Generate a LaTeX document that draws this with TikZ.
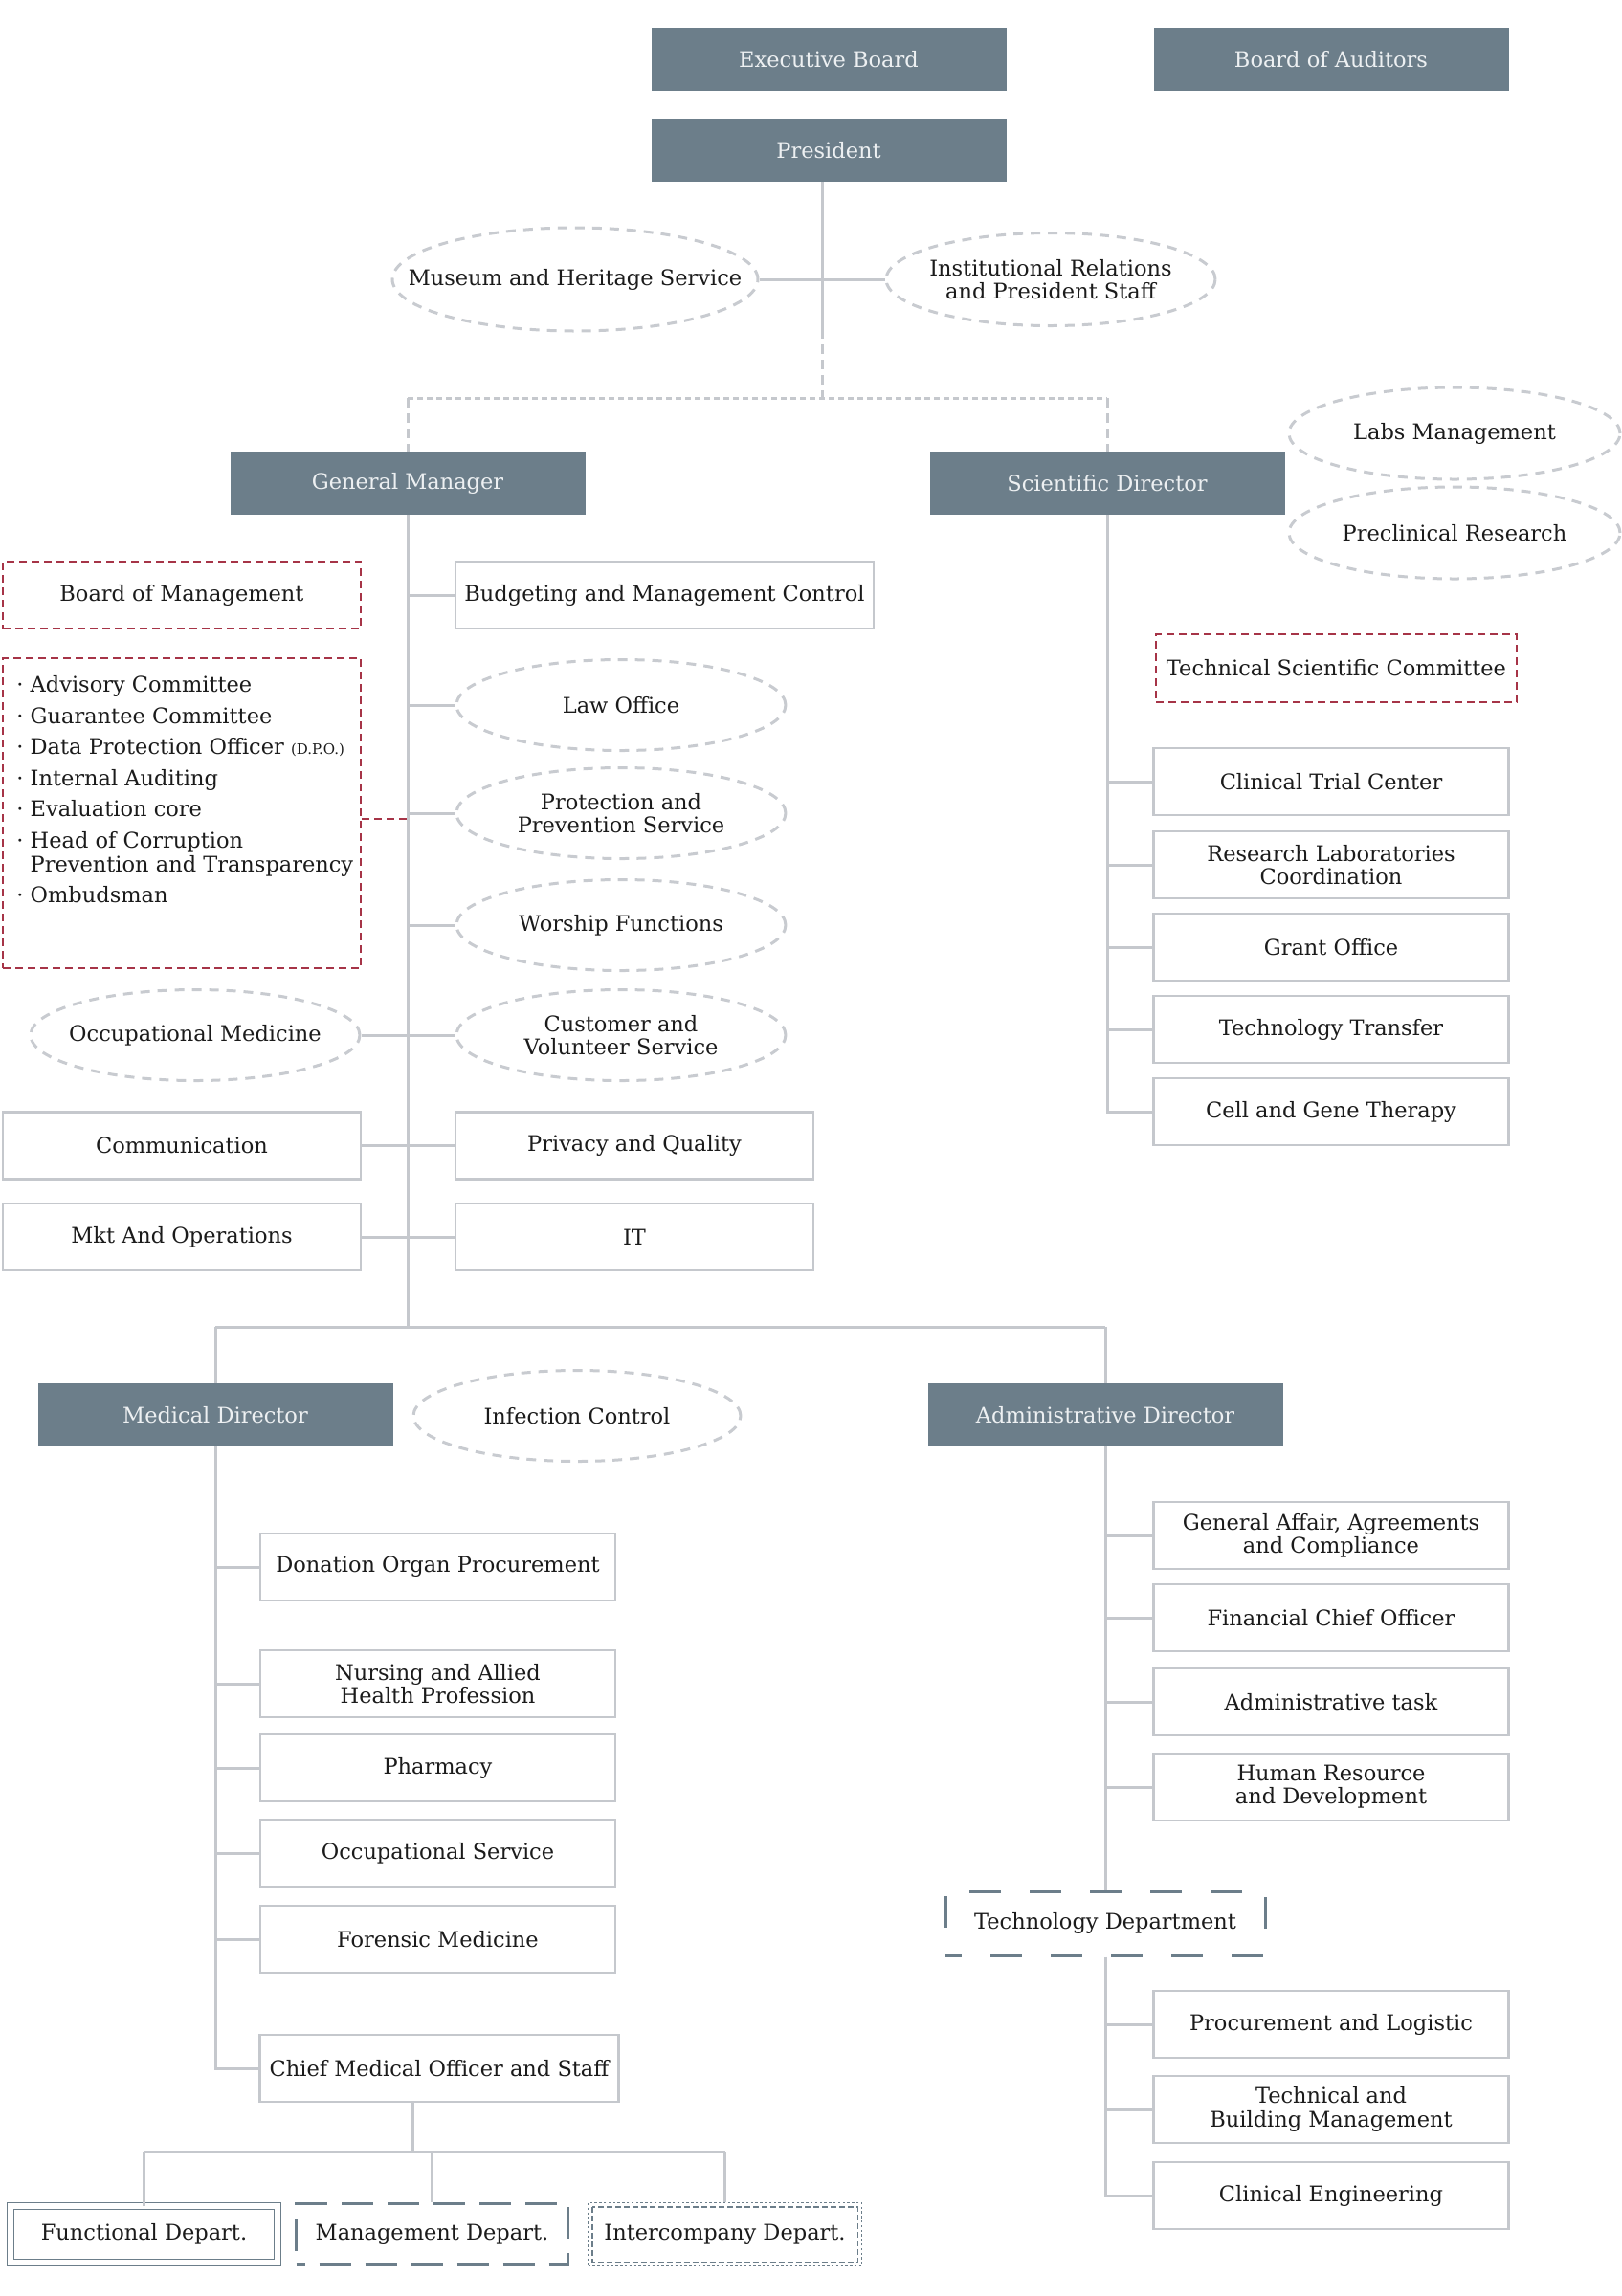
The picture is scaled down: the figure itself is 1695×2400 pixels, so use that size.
\documentclass[tikz,border=0pt]{standalone}
\usepackage{fontspec}
\setmainfont{DejaVu Serif}
\usetikzlibrary{shapes.geometric,calc}
\definecolor{slate}{HTML}{6C7E8A}
\definecolor{lgray}{HTML}{C5C8CD}
\definecolor{egray}{HTML}{C8CBD0}
\definecolor{wine}{HTML}{A63447}
\definecolor{ink}{HTML}{1B1B1B}
\definecolor{paleT}{HTML}{EDF0F2}
\begin{document}
\begin{tikzpicture}[x=0.5pt,y=-0.5pt,
  every node/.style={font=\fontsize{11.25}{12.1}\selectfont, text=ink, inner sep=0pt, align=center},
  dark/.style={rectangle, fill=slate, text=paleT, minimum width=185.5pt, minimum height=33pt},
  gbox/.style={rectangle, draw=lgray, line width=1.4pt, fill=white, minimum width=185.5pt, minimum height=35pt},
  oval/.style={ellipse, draw=egray, line width=1.5pt, dash pattern=on 5pt off 4pt, minimum width=172pt, minimum height=47.5pt, label={center:#1}},
  rbox/.style={rectangle, draw=wine, line width=1.4pt, dash pattern=on 4pt off 2.5pt},
  link/.style={draw=lgray, line width=1.5pt},
  rlink/.style={draw=wine, line width=1.4pt, dash pattern=on 4pt off 2.5pt},
]
\useasboundingbox (0,0) rectangle (1695,2400);

% ---------- top ----------
\node[dark] (eb) at (866,62) {Executive Board};
\node[dark] (ba) at (1391,62) {Board of Auditors};
\node[dark] (pres) at (866,157) {President};
\node[oval={Museum and Heritage Service}, minimum width=191pt, minimum height=54pt] (mus) at (601,292) {};
\node[oval={Institutional Relations\\and President Staff}, minimum width=172pt, minimum height=48.5pt] (inst) at (1098,292) {};
\node[dark] (gm) at (426,505) {General Manager};
\node[dark] (sd) at (1157,505) {Scientific Director};
\node[oval={Labs Management}, minimum width=173pt, minimum height=48pt] (labs) at (1520,453) {};
\node[oval={Preclinical Research}, minimum width=173pt, minimum height=48pt] (precl) at (1520,557) {};

% ---------- scientific ----------
\node[rbox, minimum width=188.5pt, minimum height=35.5pt] (tsc) at (1396.5,698.5) {Technical Scientific Committee};
\node[gbox] (ctc) at (1391,817) {Clinical Trial Center};
\node[gbox] (rlc) at (1391,904) {Research Laboratories\\Coordination};
\node[gbox] (grant) at (1391,990) {Grant Office};
\node[gbox] (tt) at (1391,1076) {Technology Transfer};
\node[gbox] (cgt) at (1391,1162) {Cell and Gene Therapy};

% ---------- general manager ----------
\node[rbox, minimum width=187pt, minimum height=35pt] (bom) at (190,622) {Board of Management};
\node[rbox, minimum width=187pt, minimum height=162pt] (list) at (190,850) {};
\node[anchor=north west, align=left, font=\fontsize{11.25}{12.5}\selectfont] (lt) at (17,706)
  {·~Advisory Committee\\[3.75pt]
   ·~Guarantee Committee\\[3.75pt]
   ·~Data Protection Officer {\fontsize{7.5}{8}\selectfont(D.P.O.)}\\[3.75pt]
   ·~Internal Auditing\\[3.75pt]
   ·~Evaluation core\\[3.75pt]
   ·~Head of Corruption\\
   \hphantom{·~}Prevention and Transparency\\[3.75pt]
   ·~Ombudsman};
\node[gbox, minimum width=218.5pt] (budget) at (694.5,622) {Budgeting and Management Control};
\node[oval={Law Office}] (law) at (649,737) {};
\node[oval={Protection and\\Prevention Service}] (prot) at (649,850) {};
\node[oval={Worship Functions}] (wor) at (649,967) {};
\node[oval={Customer and\\Volunteer Service}] (cust) at (649,1082) {};
\node[oval={Occupational Medicine}] (occm) at (204,1082) {};
\node[gbox, minimum width=187pt] (comm) at (190,1197.5) {Communication};
\node[gbox, minimum width=187pt] (priv) at (663,1197.5) {Privacy and Quality};
\node[gbox, minimum width=187pt] (mkt) at (190,1293) {Mkt And Operations};
\node[gbox, minimum width=187pt] (it) at (663,1293) {IT};

% ---------- medical ----------
\node[dark] (md) at (225,1479) {Medical Director};
\node[oval={Infection Control}, minimum width=171pt] (inf) at (603,1480) {};
\node[gbox] (dop) at (457.5,1638) {Donation Organ Procurement};
\node[gbox] (nurs) at (457.5,1760) {Nursing and Allied\\Health Profession};
\node[gbox] (pharm) at (457.5,1848) {Pharmacy};
\node[gbox] (occs) at (457.5,1937) {Occupational Service};
\node[gbox] (foren) at (457.5,2027) {Forensic Medicine};
\node[gbox, minimum width=187.5pt] (cmo) at (459,2162) {Chief Medical Officer and Staff};

% ---------- administrative ----------
\node[dark] (ad) at (1155,1479) {Administrative Director};
\node[gbox] (ga) at (1391,1605) {General Affair, Agreements\\and Compliance};
\node[gbox] (fco) at (1391,1691) {Financial Chief Officer};
\node[gbox] (adt) at (1391,1779) {Administrative task};
\node[gbox] (hr) at (1391,1868) {Human Resource\\and Development};
\node[rectangle, draw=slate, line width=1.5pt, dash pattern=on 16.5pt off 15pt, dash phase=8pt, minimum width=167pt, minimum height=33.5pt] (td) at (1155,2010.5) {Technology Department};
\node[gbox] (proc) at (1391,2116) {Procurement and Logistic};
\node[gbox] (tbm) at (1391,2205) {Technical and\\Building Management};
\node[gbox] (ce) at (1391,2295) {Clinical Engineering};

% ---------- legend ----------
\node[rectangle, draw=slate, line width=0.7pt, double=white, double distance=2.8pt, minimum width=139.3pt, minimum height=29.3pt] (func) at (150.5,2335.5) {Functional Depart.};
\node[rectangle, draw=slate, line width=1.6pt, dash pattern=on 16.5pt off 7.5pt, dash phase=12pt, minimum width=142pt, minimum height=32pt] (mgmt) at (451.5,2335.5) {Management Depart.};
\node[rectangle, draw=slate, line width=0.6pt, dash pattern=on 1.2pt off 1.2pt, minimum width=143pt, minimum height=33pt] (ico) at (757.5,2335.5) {Intercompany Depart.};
\draw[slate, line width=0.6pt, dash pattern=on 3pt off 1.5pt] ([shift={(5,5)}]ico.north west) rectangle ([shift={(-5,-5)}]ico.south east);

% ---------- connectors ----------
\coordinate (pj) at (859,344);
\coordinate (pk) at (859,416);
\draw[link] ([xshift=-3.5pt]pres.south) -- (pj);
\draw[link, dash pattern=on 5pt off 3pt] (pj) -- (pk);
\draw[link, dash pattern=on 3pt off 2pt] (gm.north |- pk) -- (sd.north |- pk);
\draw[link, dash pattern=on 5pt off 3pt] (gm.north |- pk) -- (gm.north);
\draw[link, dash pattern=on 5pt off 3pt] (sd.north |- pk) -- (sd.north);
\draw[link] (mus.east) -- (inst.west);

% scientific director trunk
\draw[link] (sd.south) |- (cgt.west);
\foreach \n in {ctc,rlc,grant,tt}{\draw[link] (\n.west) -- (\n.west -| sd.south);}

% general manager trunk
\coordinate (gj) at (426,1387);
\draw[link] (gm.south) -- (gj);
\foreach \n in {budget,law,prot,wor,cust,it}{\draw[link] (\n.west) -- (\n.west -| gm.south);}
\draw[link] (occm.east) -- (occm.east -| gm.south);
\draw[link] (mkt.east) -- (mkt.east -| gm.south);
\draw[link] (comm.east) -- (priv.west);
\draw[rlink] ([yshift=-3pt]list.east) -- ([yshift=-3pt]list.east -| gm.south) ;
\draw[link] (md.north |- gj) -- (ad.north |- gj);
\draw[link] (md.north |- gj) -- (md.north);
\draw[link] (ad.north |- gj) -- (ad.north);

% medical trunk
\draw[link] (md.south) |- (cmo.west);
\foreach \n in {dop,nurs,pharm,occs,foren}{\draw[link] (\n.west) -- (\n.west -| md.south);}
\coordinate (cj) at (431,2249);
\draw[link] (cmo.south -| cj) -- (cj);
\draw[link] (func.north |- cj) -- (ico.north |- cj);
\draw[link] (func.north |- cj) -- (func.north);
\draw[link] (mgmt.north |- cj) -- (mgmt.north);
\draw[link] (ico.north |- cj) -- (ico.north);

% administrative trunk
\draw[link] (ad.south) -- (td.north);
\draw[link] (td.south) |- (ce.west);
\foreach \n in {ga,fco,adt,hr,proc,tbm}{\draw[link] (\n.west) -- (\n.west -| td.south);}
\end{tikzpicture}
\end{document}
